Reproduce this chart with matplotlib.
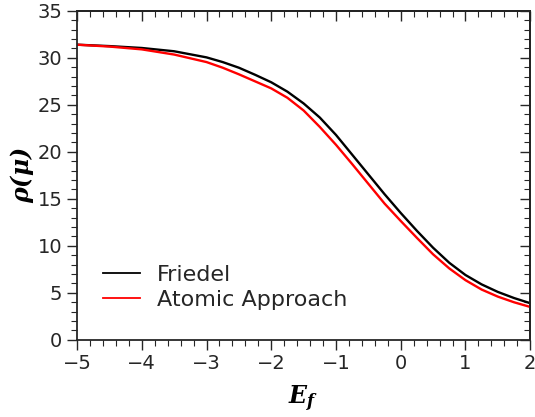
import matplotlib
matplotlib.use("Agg")
import matplotlib.pyplot as plt
from matplotlib.ticker import MultipleLocator

plt.rcParams['mathtext.fontset'] = 'dejavuserif'

# Valores
ef = [-5.0, -4.5, -4.0, -3.5, -3.0, -2.75, -2.5, -2.25, -2.0, -1.75, -1.5, -1.25, -1.0,
      -0.75, -0.5, -0.25, 0.0, 0.25, 0.5, 0.75, 1.0, 1.25, 1.5, 1.75, 2.0]
rho_friedel = [31.4, 31.25, 31.05, 30.7, 30.05, 29.55, 28.95, 28.2, 27.4, 26.4, 25.15, 23.65, 21.8,
               19.7, 17.6, 15.5, 13.5, 11.6, 9.8, 8.2, 6.9, 5.9, 5.1, 4.45, 3.9]
rho_atomic = [31.4, 31.2, 30.9, 30.35, 29.55, 28.95, 28.25, 27.5, 26.75, 25.75, 24.4, 22.65, 20.75,
              18.7, 16.6, 14.5, 12.65, 10.85, 9.1, 7.6, 6.35, 5.35, 4.6, 4.0, 3.5]

dark = '#262626'

fig = plt.figure(figsize=(5.35, 4.17), dpi=100)
ax = fig.add_axes([0.144, 0.185, 0.847, 0.789])

ax.plot(ef, rho_friedel, color='black', linewidth=1.7, label='Friedel')
ax.plot(ef, rho_atomic, color='red', linewidth=1.7, label='Atomic Approach')

ax.set_xlim(-5, 2)
ax.set_ylim(0, 35)
ax.xaxis.set_major_locator(MultipleLocator(1))
ax.xaxis.set_minor_locator(MultipleLocator(0.2))
ax.yaxis.set_major_locator(MultipleLocator(5))
ax.yaxis.set_minor_locator(MultipleLocator(1))
ax.xaxis.set_major_formatter(lambda v, p: f"{v:.0f}".replace('-', '\u2212'))
ax.tick_params(which='both', direction='out', colors=dark, labelsize=14, width=1)
ax.tick_params(which='major', length=7)
ax.tick_params(which='minor', length=4.5, width=0.8)
for s in ax.spines.values() :
    s.set_color(dark)
    s.set_linewidth(1.3)

# ticks hacia dentro arriba y a la derecha
top = ax.secondary_xaxis('top')
top.xaxis.set_major_locator(MultipleLocator(1))
top.xaxis.set_minor_locator(MultipleLocator(0.2))
top.tick_params(which='both', direction='in', labeltop=False, colors=dark, width=1)
top.tick_params(which='major', length=7)
top.tick_params(which='minor', length=4.5, width=0.8)
top.spines['top'].set_linewidth(1.3)
right = ax.secondary_yaxis('right')
right.yaxis.set_major_locator(MultipleLocator(5))
right.yaxis.set_minor_locator(MultipleLocator(1))
right.tick_params(which='both', direction='in', labelright=False, colors=dark, width=1)
right.tick_params(which='major', length=7)
right.tick_params(which='minor', length=4.5, width=0.8)
right.spines['right'].set_linewidth(1.3)

ax.set_xlabel(r'$\mathbfit{E_f}$', fontsize=17, color='black', labelpad=7)
ax.set_ylabel(r'$\mathbfit{\rho(\mu)}$', fontsize=17, color='black', labelpad=1)

leg = ax.legend(loc='lower left', bbox_to_anchor=(0.057, 0.09), frameon=False, fontsize=16,
                borderpad=0, borderaxespad=0,
                handlelength=1.66, handletextpad=0.77, labelspacing=0.25)
for line in leg.get_lines() :
    line.set_linewidth(1.3)
for t in leg.get_texts() :
    t.set_color(dark)

fig.savefig('out.png', dpi=100)
